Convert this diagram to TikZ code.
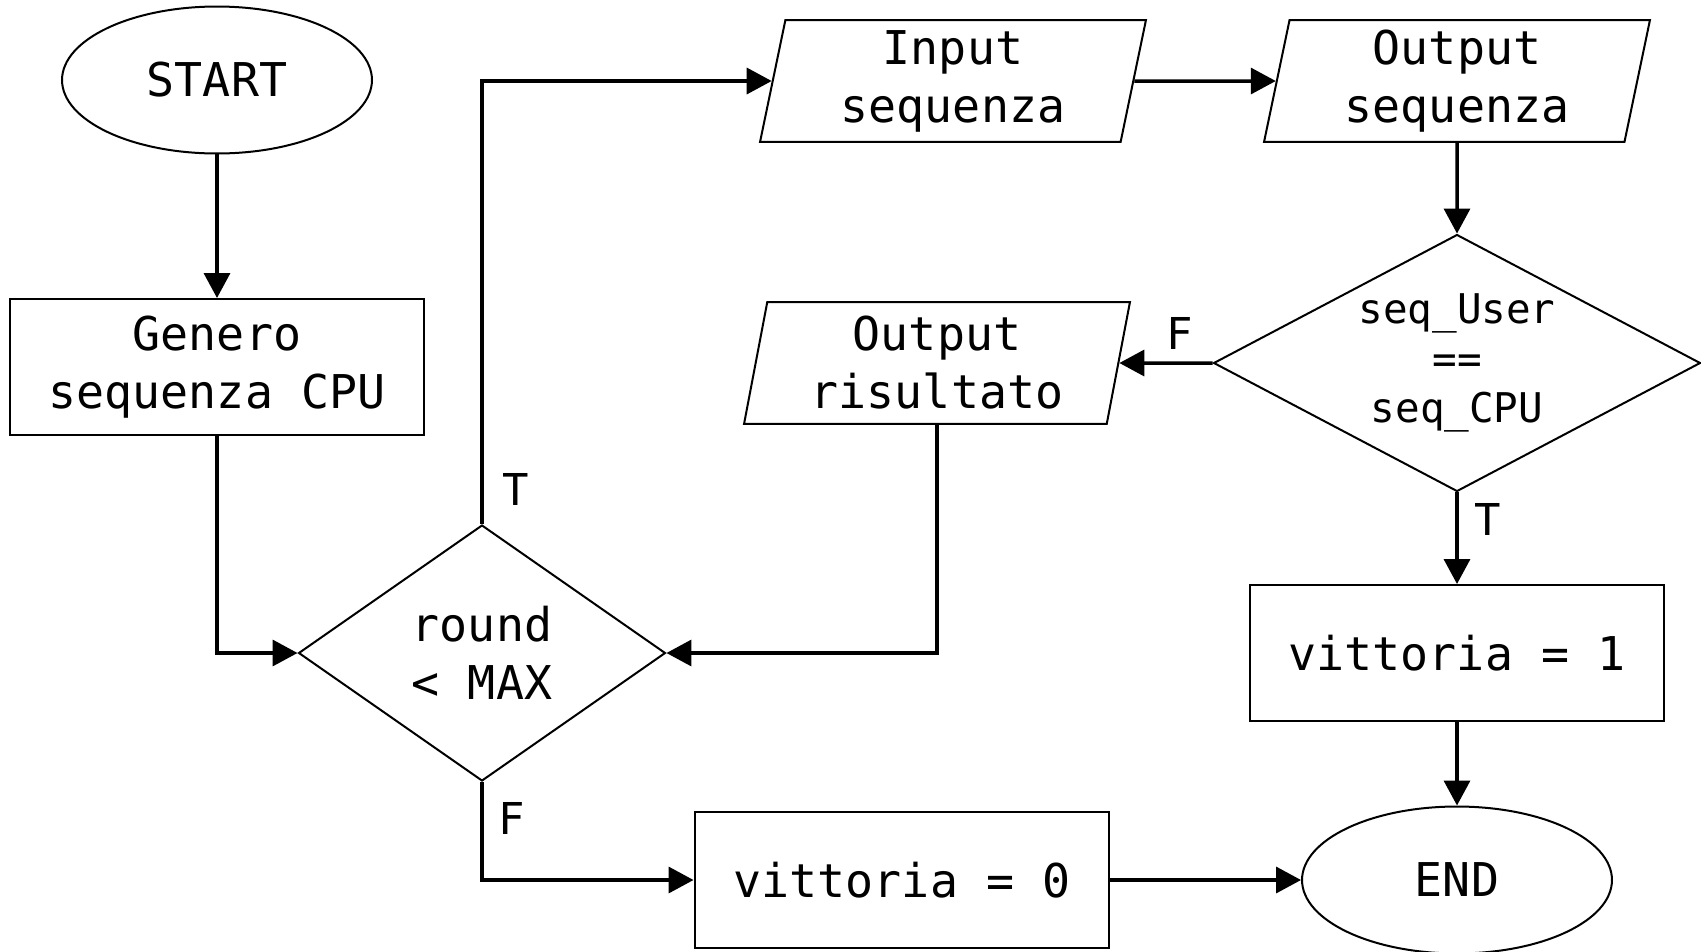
\documentclass[tikz,border=0pt]{standalone}
\usepackage{fontspec}
\setmonofont{DejaVu Sans Mono}
\usetikzlibrary{positioning, arrows.meta, shapes.geometric}

\tikzset{
  base/.style={draw, line width=0.04cm, align=center, inner sep=0pt,
               font=\ttfamily\fontsize{26.5}{33}\selectfont},
  term/.style={base, ellipse, minimum width=6.2cm, minimum height=2.94cm},
  proc/.style={base, rectangle, minimum width=8.3cm, minimum height=2.72cm},
  io/.style={base, trapezium, trapezium left angle=76, trapezium right angle=104,
             trapezium stretches body, minimum width=7.72cm, minimum height=2.44cm},
  cond/.style={base, diamond},
  flow/.style={line width=0.07cm, -{Triangle[length=0.5cm, width=0.52cm]}},
  lbl/.style={font=\ttfamily\fontsize{25}{30}\selectfont, inner sep=0pt}
}

\begin{document}
\begin{tikzpicture}[x=0.02cm, y=-0.02cm]
  \useasboundingbox (0,0) rectangle (1701,951);

  % blocchi
  \node[term] (start) at (217,80) {START};
  \node[proc] (gen) at (217,367) {Genero\\sequenza CPU};
  \node[cond, aspect=1.43, minimum width=7.34cm, minimum height=5.12cm] (round)
        at (482,653) {round\\< MAX};
  \node[io] (inp) at (953,81) {Input\\sequenza};
  \node[io] (outs) at (1457,81) {Output\\sequenza};
  \node[cond, aspect=1.9, minimum width=9.74cm, minimum height=5.14cm,
        font=\ttfamily\fontsize{23.3}{28}\selectfont] (seq) at (1457,363)
        {seq\_User\\==\\seq\_CPU};
  \node[io] (ris) at (937,363) {Output\\risultato};
  \node[proc] (vinto) at (1457,653) {vittoria = 1};
  \node[proc] (perso) at (902,880) {vittoria = 0};
  \node[term] (end) at (1457,880) {END};

  % etichette
  \node[lbl] (tround) at (516,489) {T};
  \node[lbl] (fround) at (512,818) {F};
  \node[lbl] (fseq) at (1180,333) {F};
  \node[lbl] (tseq) at (1488,519) {T};

  % collegamenti
  \draw[flow] (start) -- (gen);
  \draw[flow] (gen.south) |- (round.west);
  \draw[flow] (round.north) |- (inp.west);
  \draw[flow] (inp.east) -- (outs.west);
  \draw[flow] (outs.south) -- (seq.north);
  \draw[flow] (seq.west) -- (ris.east);
  \draw[flow] (ris.south) |- (round.east);
  \draw[flow] (seq.south) -- (vinto.north);
  \draw[flow] (round.south) |- (perso.west);
  \draw[flow] (perso.east) -- (end.west);
  \draw[flow] (vinto.south) -- (end.north);
\end{tikzpicture}
\end{document}
